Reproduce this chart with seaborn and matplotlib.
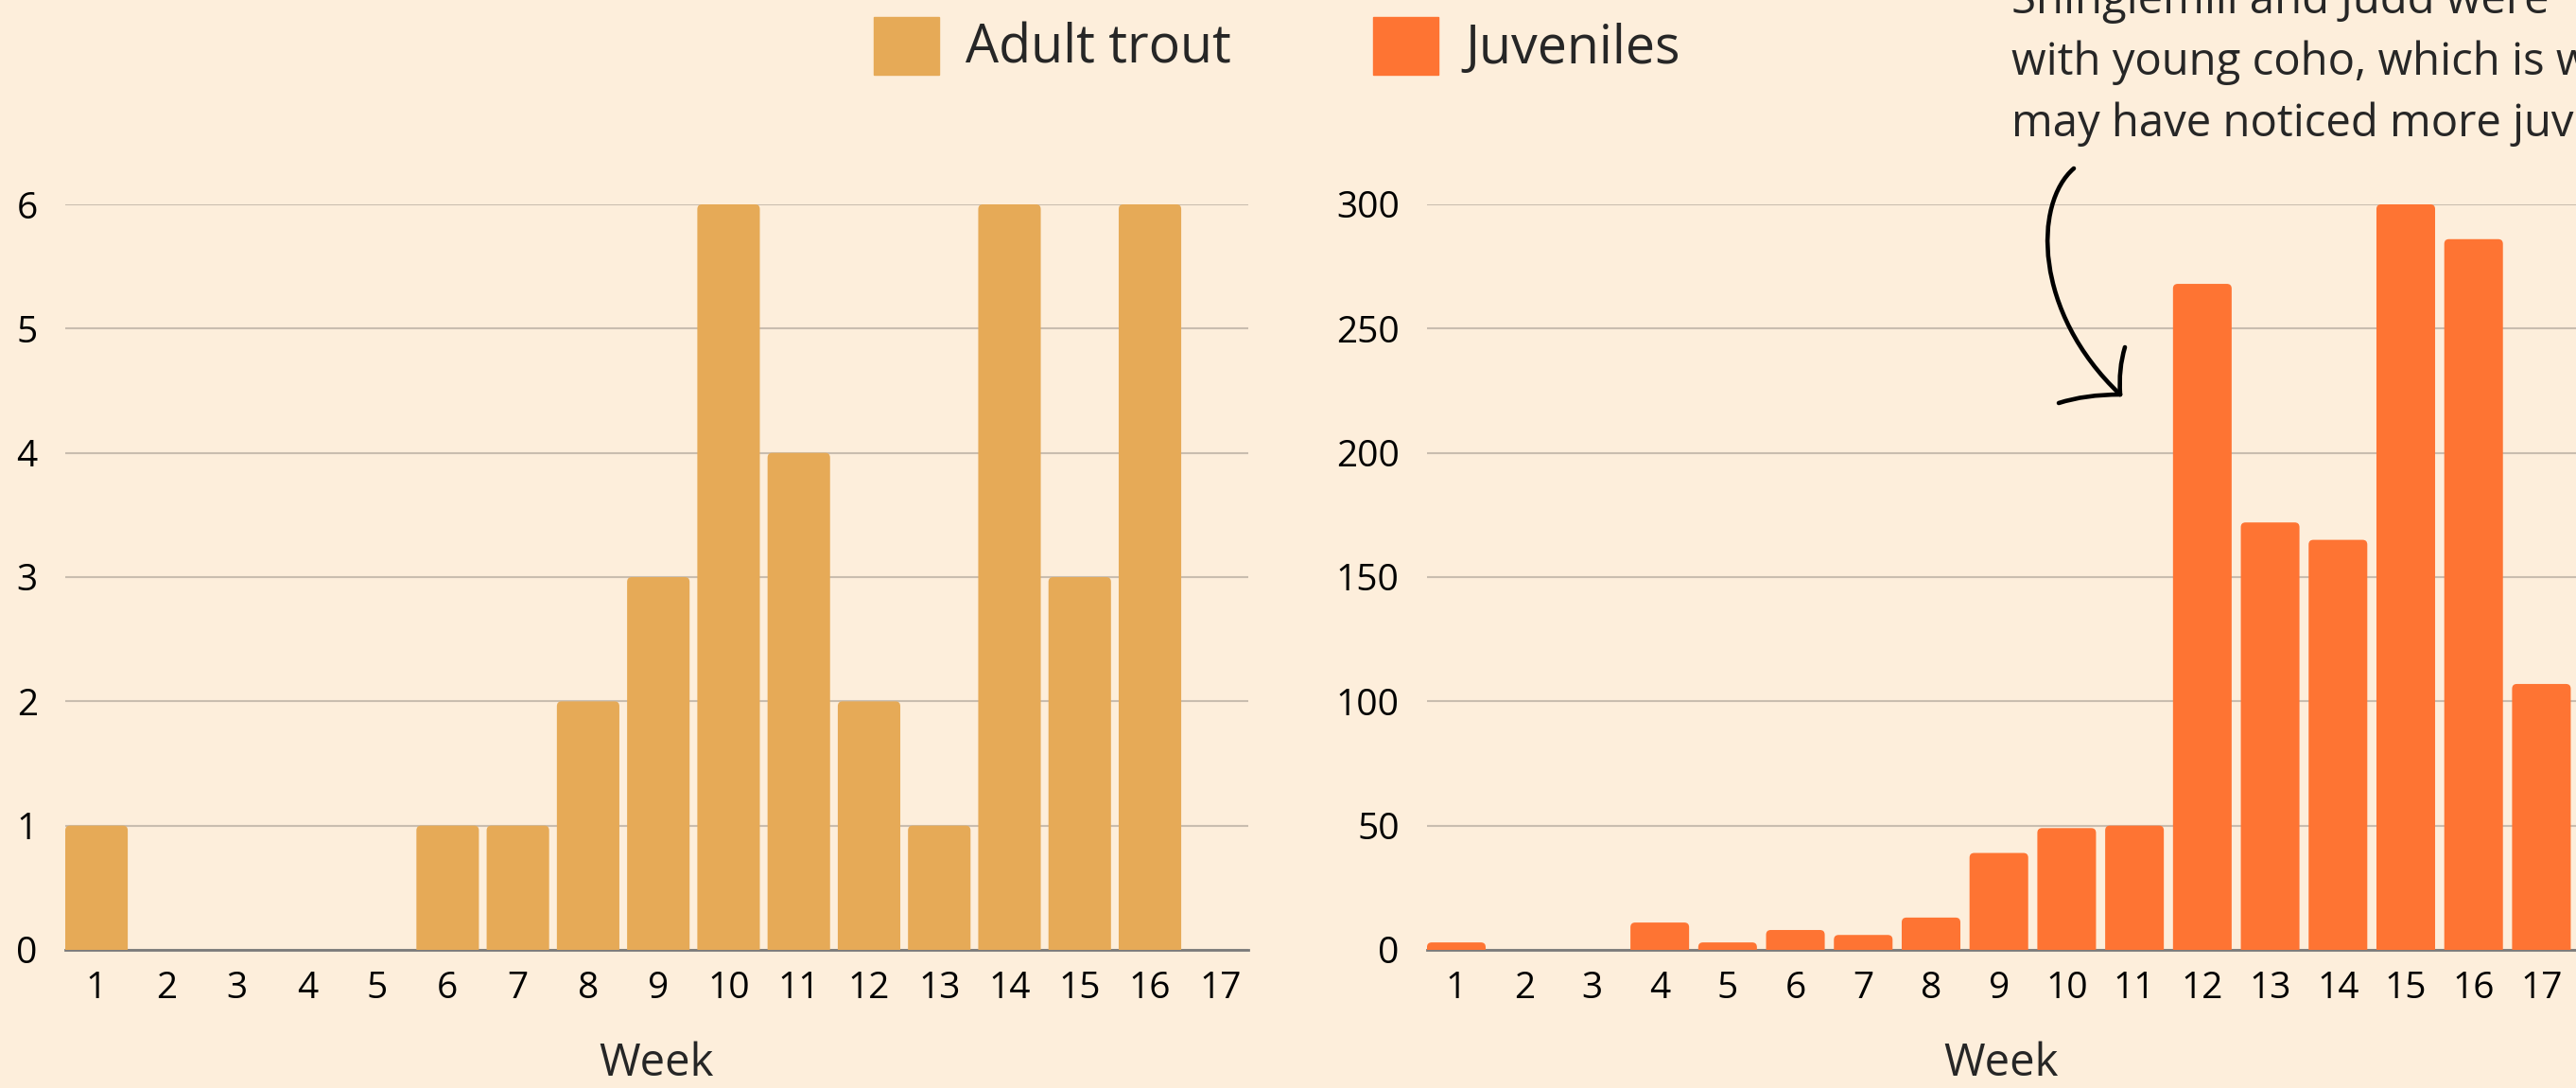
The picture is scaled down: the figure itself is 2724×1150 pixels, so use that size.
import matplotlib.pyplot as plt
import seaborn as sns
import pandas as pd
from matplotlib.path import Path
from matplotlib.patches import PathPatch, Patch, FancyBboxPatch

weeks = [str(w) for w in range(1, 18)]
adult_trout = [1, 0, 0, 0, 0, 1, 1, 2, 3, 6, 4, 2, 1, 6, 3, 6, 0]
juveniles = [3, 0, 0, 11, 3, 8, 6, 13, 39, 49, 50, 268, 172, 165, 300, 286, 107]
adult_ticks = [0, 1, 2, 3, 4, 5, 6]
juvenile_ticks = [0, 50, 100, 150, 200, 250, 300]
note_lines = ['Shinglemill and Judd were', 'with young coho, which is w', 'may have noticed more juv']

bg = '#FDEEDB'
gold = '#E6AA57'
orange = '#FE7433'
grid_col = '#C9BDAF'

sns.set_style('white', rc={'axes.facecolor': bg, 'figure.facecolor': bg})
plt.rcParams['font.family'] = ['Open Sans', 'DejaVu Sans']

W, H = 2724, 1150
fig = plt.figure(figsize=(W / 100, H / 100), dpi=100)
ax1 = fig.add_axes([69 / W, 146 / H, 1251 / W, 788 / H])
ax2 = fig.add_axes([1509 / W, 146 / H, 1215 / W, 788 / H])

df = pd.DataFrame({'Week': weeks, 'Adult trout': adult_trout, 'Juveniles': juveniles})

sns.barplot(data=df, x='Week', y='Adult trout', color=gold, saturation=1, width=0.89,
            linewidth=0, ax=ax1, zorder=3)
sns.barplot(data=df, x='Week', y='Juveniles', color=orange, saturation=1, width=0.865,
            linewidth=0, ax=ax2, zorder=3)

ax1.set_xlim(-0.445, 16.40)
ax2.set_xlim(-0.432, 16.51)
ax1.set_ylim(0, 6)
ax2.set_ylim(0, 300)
ax1.set_yticks(adult_ticks)
ax2.set_yticks(juvenile_ticks)

for ax in (ax1, ax2):
    ax.set_axisbelow(True)
    ax.grid(axis='y', color=grid_col, linewidth=1.5)
    ax.grid(axis='x', visible=False)
    for s in ['left', 'right', 'top']:
        ax.spines[s].set_visible(False)
    ax.spines['bottom'].set_color('#7a7a7a')
    ax.spines['bottom'].set_linewidth(2)
    ax.spines['bottom'].set_zorder(2)
    ax.tick_params(axis='both', length=0, labelsize=28, labelcolor='black')
    ax.tick_params(axis='y', pad=21)
    ax.tick_params(axis='x', pad=16)
    ax.set_xlabel('Week', fontsize=34, labelpad=26)
    ax.set_ylabel('')

    # give the bars slightly rounded top corners
    x_px = ax.bbox.width / (ax.get_xlim()[1] - ax.get_xlim()[0])
    y_px = ax.bbox.height / (ax.get_ylim()[1] - ax.get_ylim()[0])
    r = 5 / x_px
    aspect = x_px / y_px
    for bar in list(ax.patches):
        h = bar.get_height()
        if h <= 0:
            continue
        x0, w = bar.get_x(), bar.get_width()
        ext = r * aspect
        rb = FancyBboxPatch((x0, -ext), w, h + ext, boxstyle=f'round,pad=0,rounding_size={r}',
                            mutation_aspect=aspect, facecolor=bar.get_facecolor(),
                            linewidth=0, zorder=3)
        bar.remove()
        ax.add_patch(rb)

fig.legend(handles=[Patch(color=gold, label='Adult trout'), Patch(color=orange, label='Juveniles')],
           loc='upper left', bbox_to_anchor=(924 / W, 1 - 18 / H), ncol=2, frameon=False,
           fontsize=40, handlelength=1.25, handleheight=1.3, handletextpad=0.5,
           columnspacing=2.7, borderpad=0, borderaxespad=0)

# note text, cut off at the top and right like the original crop
for i, line in enumerate(note_lines):
    fig.text(2127 / W, 1 - (14 + 65 * i) / H, line, fontsize=34, va='baseline', ha='left')

# hand drawn arrow
def px(x, y):
    return (x / W, 1 - y / H)

curve = Path([px(2193, 178), px(2150, 215), px(2150, 330), px(2242, 417)],
             [Path.MOVETO, Path.CURVE4, Path.CURVE4, Path.CURVE4])
head1 = Path([px(2247, 367), px(2240, 390), px(2242, 417)], [Path.MOVETO, Path.CURVE3, Path.CURVE3])
head2 = Path([px(2177, 426), px(2205, 417), px(2242, 417)], [Path.MOVETO, Path.CURVE3, Path.CURVE3])
for p in (curve, head1, head2):
    fig.add_artist(PathPatch(p, transform=fig.transFigure, fill=False, lw=3.3,
                             edgecolor='black', capstyle='round'))

fig.savefig('out.png', dpi=100, facecolor=bg)
